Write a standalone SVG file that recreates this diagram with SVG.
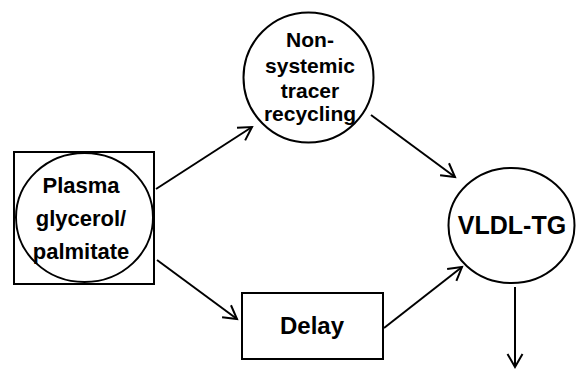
<svg xmlns="http://www.w3.org/2000/svg" width="576" height="370" viewBox="0 0 576 370">
<defs>
<style>
.s{fill:none;stroke:#000;stroke-width:2}
.t{font-family:"Liberation Sans",Arial,sans-serif;font-weight:bold;fill:#000;text-anchor:middle}
</style>
<marker id="ah" markerWidth="18" markerHeight="18" refX="15" refY="9" orient="auto" markerUnits="userSpaceOnUse">
<path d="M2,1.5 L15,9 L2,16.5" fill="none" stroke="#000" stroke-width="2"/>
</marker>
</defs>
<rect width="576" height="370" fill="#fff"/>
<g id="plasma">
<rect class="s" x="14" y="152" width="140" height="132"/>
<ellipse class="s" cx="84.5" cy="217.5" rx="68.5" ry="64.5"/>
<text class="t" x="81" y="193" font-size="22">Plasma</text>
<text class="t" x="81" y="226" font-size="22">glycerol/</text>
<text class="t" x="81" y="259" font-size="22">palmitate</text>
</g>
<g id="recycling">
<circle class="s" cx="308.5" cy="77.5" r="65"/>
<text class="t" x="310" y="47" font-size="21">Non-</text>
<text class="t" x="310" y="73" font-size="21">systemic</text>
<text class="t" x="310" y="98" font-size="21">tracer</text>
<text class="t" x="310" y="121" font-size="21">recycling</text>
</g>
<g id="delay">
<rect class="s" x="242" y="293" width="141" height="66"/>
<text class="t" x="312" y="334" font-size="24">Delay</text>
</g>
<g id="vldl">
<ellipse class="s" cx="511.5" cy="225.5" rx="63" ry="57.5"/>
<text class="t" x="512" y="234" font-size="25">VLDL-TG</text>
</g>
<g id="connectors" class="s">
<line x1="156" y1="189" x2="252" y2="127" marker-end="url(#ah)"/>
<line x1="157" y1="260" x2="237" y2="319" marker-end="url(#ah)"/>
<line x1="371" y1="115" x2="455" y2="177" marker-end="url(#ah)"/>
<line x1="384" y1="328" x2="462" y2="267" marker-end="url(#ah)"/>
<line x1="515" y1="287" x2="515" y2="367" marker-end="url(#ah)"/>
</g>
</svg>
